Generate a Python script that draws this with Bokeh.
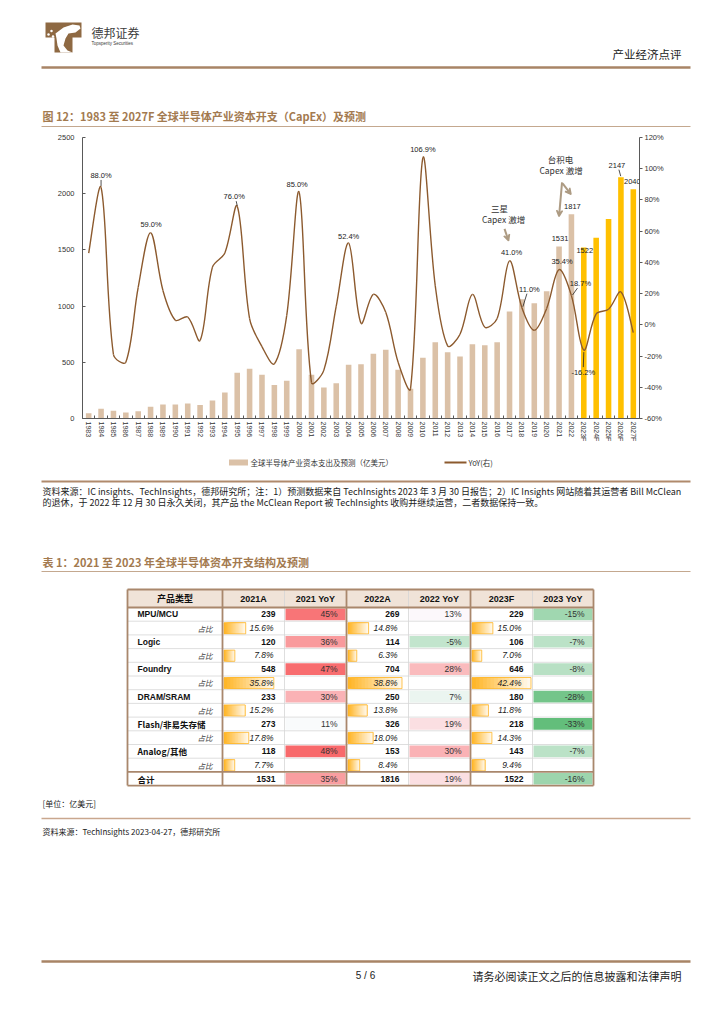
import math
import statistics
from bokeh.plotting import figure
from bokeh.models import (Range1d, LinearAxis, FixedTicker, PrintfTickFormatter,
                          ColumnDataSource, LabelSet, Arrow, VeeHead)
from bokeh.layouts import column
from bokeh.core.properties import value
from bokeh.embed import file_html
from bokeh.resources import INLINE

CJK = "Noto Sans CJK SC"
LAT = "Liberation Sans"

# ---------------- chart data ----------------
years = ["1983", "1984", "1985", "1986", "1987", "1988", "1989", "1990", "1991", "1992",
         "1993", "1994", "1995", "1996", "1997", "1998", "1999", "2000", "2001", "2002",
         "2003", "2004", "2005", "2006", "2007", "2008", "2009", "2010", "2011", "2012",
         "2013", "2014", "2015", "2016", "2017", "2018", "2019", "2020", "2021", "2022",
         "2023F", "2024F", "2025F", "2026F", "2027F"]
capex = [46, 86, 68, 53, 65, 104, 125, 125, 133, 119,
         160, 231, 406, 442, 389, 297, 335, 617, 389, 276,
         314, 478, 483, 575, 611, 433, 264, 540, 679, 590,
         552, 661, 652, 679, 952, 1062, 1026, 1133, 1531, 1817,
         1522, 1607, 1774, 2147, 2040]
yoy = [46, 88.0, -19, -24, 24, 59.0, 22, 3, 5, -10,
       37, 46, 76.0, 4, -14, -25, 6, 85.0, -37, -29,
       12, 52.4, 1, 19.5, 8, -24, -41, 106.9, 25, -13.5,
       -6, 19.5, -1.5, 4, 41.0, 11.0, -3.5, 10.5, 35.4, 18.7,
       -16.2, 7, 10, 21, -5]
left_ticks = [0, 500, 1000, 1500, 2000, 2500]
right_ticks = [-60, -40, -20, 0, 20, 40, 60, 80, 100, 120]

yoy_label_years = ["1984", "1988", "1995", "2000", "2004", "2010", "2017", "2018", "2021", "2022", "2023F"]
yoy_label_text = ["88.0%", "59.0%", "76.0%", "85.0%", "52.4%", "106.9%", "41.0%", "11.0%", "35.4%", "18.7%", "-16.2%"]
bar_label_years = ["2021", "2022", "2023F", "2026F", "2027F"]
bar_label_text = ["1531", "1817", "1522", "2147", "2040"]

legend_bar = "全球半导体产业资本支出及预测（亿美元）"
legend_line = "YoY(右)"

# ---------------- table data ----------------
tbl_cats = ["MPU/MCU", "Logic", "Foundry", "DRAM/SRAM", "Flash/非易失存储", "Analog/其他"]
tbl_headers = ["产品类型", "2021A", "2021 YoY", "2022A", "2022 YoY", "2023F", "2023 YoY"]
v2021 = [239, 120, 548, 233, 273, 118]
yoy2021 = [45, 36, 47, 30, 11, 48]
sh2021 = [15.6, 7.8, 35.8, 15.2, 17.8, 7.7]
v2022 = [269, 114, 704, 250, 326, 153]
yoy2022 = [13, -5, 28, 7, 19, 30]
sh2022 = [14.8, 6.3, 38.8, 13.8, 18.0, 8.4]
v2023 = [229, 106, 646, 180, 218, 143]
yoy2023 = [-15, -7, -8, -28, -33, -7]
sh2023 = [15.0, 7.0, 42.4, 11.8, 14.3, 9.4]
tot_vals = [1531, 1816, 1522]
tot_yoy = [35, 19, -16]

# ---------------- styles ----------------
PAGE_W = 708
BAR_HIST = "#dbc1a7"
BAR_FC = "#ffc000"
LINE_C = "#8c5a2e"
TITLE_C = "#a37a4f"
RULE_C = "#a88466"
AXIS_C = "#595959"
TXT = "#333333"


def deco(h, y_top):
    f = figure(width=PAGE_W, height=h, x_range=Range1d(0, PAGE_W),
               y_range=Range1d(y_top + h, y_top), output_backend="svg",
               toolbar_location=None, min_border=0, title=None,
               x_axis_location=None, y_axis_location=None)
    f.frame_align = False
    f.grid.visible = False
    f.outline_line_color = None
    f.background_fill_color = "white"
    f.border_fill_color = "white"
    return f


def txt(f, x, y, s, size, font=CJK, color=TXT, align="left", style="normal"):
    f.text(x=[x], y=[y], text=[s], text_font=value(font), text_font_size=size,
           text_color=color, text_align=align, text_baseline="middle",
           text_font_style=style)


def rule(f, x0, x1, y, w, c):
    f.segment(x0=[x0], y0=[y], x1=[x1], y1=[y], line_width=w, line_color=c)


# ================= header =================
HDR_END = 128
hdr = deco(HDR_END, 0)
hdr.patches(xs=[[45, 81, 81, 72, 72, 54, 54, 45]], ys=[[22, 22, 37, 37, 52, 52, 37, 37]],
            fill_color="#8e6943", line_color=None)
hdr.patches(xs=[[55, 63, 72, 79, 80, 75, 68, 65, 63, 67, 72, 60, 57, 56]],
            ys=[[33, 27, 24, 25, 28, 32, 33, 38, 45, 50, 52, 52, 45, 38]],
            fill_color="white", line_color=None)
hdr.scatter(x=[48, 51, 52.5], y=[34, 30.5, 36], size=2.5, fill_color="white", line_color=None)
txt(hdr, 91, 32, "德邦证券", "12px", color="#3c3c3c")
txt(hdr, 91, 42.5, "Topsperity Securities", "4.5px", font=LAT, color="#3c3c3c")
txt(hdr, 681, 53, "产业经济点评", "11.5px", color="#222222", align="right")
rule(hdr, 41, 690, 67, 2.5, RULE_C)
txt(hdr, 42, 115, "图 12：1983 至 2027F 全球半导体产业资本开支（CapEx）及预测", "11px",
    color=TITLE_C, style="bold")
rule(hdr, 41, 690, 126, 1, "#c4a88f")

# ================= chart =================
N = len(years)
ML, MR, MT, MB = 82, 69, 9, 32
FW = PAGE_W - ML - MR
FH = 281
YMAX = left_ticks[-1]
RMIN, RMAX = right_ticks[0], right_ticks[-1]
PX_X = FW / N
PX_B = FH / YMAX
PX_R = FH / (RMAX - RMIN)
CH_H = MT + FH + MB

chart = figure(width=PAGE_W, height=CH_H, x_range=Range1d(-0.5, N - 0.5),
               y_range=Range1d(0, YMAX), output_backend="svg", toolbar_location=None,
               min_border_left=ML, min_border_right=MR, min_border_top=MT,
               min_border_bottom=MB, title=None, x_axis_location=None, y_axis_location=None)
chart.frame_align = False
chart.extra_y_ranges = {"yoy": Range1d(RMIN, RMAX)}
chart.grid.visible = False
chart.outline_line_color = None
chart.background_fill_color = "white"
chart.border_fill_color = "white"

idx = list(range(N))
xaxis = LinearAxis(ticker=FixedTicker(ticks=idx, minor_ticks=[i - 0.5 for i in range(N + 1)]),
                   major_label_overrides={i: y for i, y in enumerate(years)},
                   major_label_orientation="vertical", major_tick_in=0, major_tick_out=0,
                   minor_tick_in=3, minor_tick_out=0, minor_tick_line_color=AXIS_C,
                   axis_line_color=AXIS_C, major_label_standoff=3,
                   major_label_text_font=LAT, major_label_text_font_size="7px",
                   major_label_text_color=TXT)
chart.add_layout(xaxis, "below")
yl = LinearAxis(ticker=FixedTicker(ticks=left_ticks), major_tick_out=0, major_tick_in=3,
                minor_tick_out=0, minor_tick_in=0, axis_line_color=AXIS_C,
                major_tick_line_color=AXIS_C, major_label_standoff=8,
                major_label_text_font=LAT, major_label_text_font_size="7.5px",
                major_label_text_color=TXT)
chart.add_layout(yl, "left")
yr = LinearAxis(y_range_name="yoy", ticker=FixedTicker(ticks=right_ticks),
                formatter=PrintfTickFormatter(format="%d%%"), major_tick_out=3,
                major_tick_in=0, minor_tick_out=0, minor_tick_in=0, axis_line_color=AXIS_C,
                major_tick_line_color=AXIS_C, major_label_standoff=2,
                major_label_text_font=LAT, major_label_text_font_size="7.5px",
                major_label_text_color=TXT)
chart.add_layout(yr, "right")

bar_src = ColumnDataSource(dict(x=idx, top=capex,
                                color=[BAR_FC if y.endswith("F") else BAR_HIST for y in years]))
chart.vbar(x="x", top="top", width=0.45, fill_color="color", line_color=None, source=bar_src)

# smoothed YoY line: bezier segments through every data point, tangents scaled by the
# neighbouring segment lengths (measured on screen) as spreadsheet smoothing does
T = 1 / 6


def sdist(i, j):
    return math.hypot((idx[j] - idx[i]) * PX_X, (yoy[j] - yoy[i]) * PX_R)


fwd, bwd = [], []
for k in range(N):
    km, kp = max(k - 1, 0), min(k + 1, N - 1)
    vx, vy = idx[kp] - idx[km], yoy[kp] - yoy[km]
    d0, d1 = sdist(km, k), sdist(k, kp)
    s = d0 + d1 if d0 + d1 > 0 else 1
    ff, fb = T * 2 * d1 / s, T * 2 * d0 / s
    if k == 0 or k == N - 1:
        ff = fb = T
    fwd.append((idx[k] + vx * ff, yoy[k] + vy * ff))
    bwd.append((idx[k] - vx * fb, yoy[k] - vy * fb))
chart.bezier(x0=idx[:-1], y0=yoy[:-1], x1=idx[1:], y1=yoy[1:],
             cx0=[p[0] for p in fwd[:-1]], cy0=[p[1] for p in fwd[:-1]],
             cx1=[p[0] for p in bwd[1:]], cy1=[p[1] for p in bwd[1:]],
             y_range_name="yoy", line_color=LINE_C, line_width=1.4)

# label offsets in px (dx right, dy down)
yoy_off = {"1984": (0, -12), "1988": (0.5, -8.5), "1995": (-3, -9.5), "2000": (-2, -8),
           "2004": (0, -7), "2010": (0, -8.5), "2017": (2, -8.5), "2018": (7.5, -18.5),
           "2021": (3, -8), "2022": (9, -12.5), "2023F": (-0.5, 22)}
bar_off = {"2021": (1, -7.5), "2022": (1, -7.8), "2023F": (1, 3), "2026F": (-4, -11.5),
           "2027F": (-1, -8)}

yl_idx = [years.index(y) for y in yoy_label_years]
chart.add_layout(LabelSet(
    x="x", y="y", text="t", x_offset="xo", y_offset="yo", y_range_name="yoy",
    source=ColumnDataSource(dict(x=yl_idx, y=[yoy[i] for i in yl_idx], t=yoy_label_text,
                                 xo=[yoy_off[y][0] for y in yoy_label_years],
                                 yo=[-yoy_off[y][1] for y in yoy_label_years])),
    text_font=value(LAT), text_font_size="7.5px", text_color="#222222",
    text_align="center", text_baseline="middle"))
bl_idx = [years.index(y) for y in bar_label_years]
chart.add_layout(LabelSet(
    x="x", y="y", text="t", x_offset="xo", y_offset="yo",
    source=ColumnDataSource(dict(x=bl_idx, y=[capex[i] for i in bl_idx], t=bar_label_text,
                                 xo=[bar_off[y][0] for y in bar_label_years],
                                 yo=[-bar_off[y][1] for y in bar_label_years])),
    text_font=value(LAT), text_font_size="7.5px", text_color="#222222",
    text_align="center", text_baseline="middle"))

# leader lines (px offsets from the annotated point)
yoy_lead = {"1984": (0, -7.5, 0, -1.5), "1995": (-1, -5, 0, -0.5), "2018": (5, -14, 1, -1),
            "2022": (6, -7.5, 1, -0.5), "2023F": (-0.5, 17, 0, 2)}
lx0, ly0, lx1, ly1 = [], [], [], []
for y, (a, b, c, d) in yoy_lead.items():
    i = years.index(y)
    lx0.append(i + a / PX_X); ly0.append(yoy[i] - b / PX_R)
    lx1.append(i + c / PX_X); ly1.append(yoy[i] - d / PX_R)
chart.segment(x0=lx0, y0=ly0, x1=lx1, y1=ly1, y_range_name="yoy", line_color="#222222",
              line_width=0.8)
i26 = years.index("2026F")
chart.segment(x0=[i26 - 2 / PX_X], y0=[capex[i26] + 7.5 / PX_B], x1=[i26 - 0.2 / PX_X],
              y1=[capex[i26] + 1 / PX_B], line_color="#222222", line_width=0.8)

# event annotations
i17 = years.index("2017")
i21 = years.index("2021")
ann_src = ColumnDataSource(dict(
    x=[i17, i17, i21, i21],
    y=[yoy[i17] + 53 / PX_R, yoy[i17] + 42 / PX_R,
       (capex[i21] + 87.5 / PX_B) / YMAX * (RMAX - RMIN) + RMIN,
       (capex[i21] + 76 / PX_B) / YMAX * (RMAX - RMIN) + RMIN],
    t=["三星", "Capex 激增", "台积电", "Capex 激增"],
    xo=[-10, -6, 1.5, 2]))
chart.add_layout(LabelSet(x="x", y="y", text="t", x_offset="xo", y_range_name="yoy",
                          source=ann_src, text_font=value(CJK), text_font_size="8.5px",
                          text_color="#333333", text_align="center", text_baseline="middle"))
ARC = "#ad9b83"
arrows = [
    (i17, yoy[i17], -5, -32, -1, -20, "yoy"),
    (i21, capex[i21], 3, -64, 0, -30, "default"),
    (i21, capex[i21], 3.5, -63, 12, -52, "default"),
]
for (ai, av, a, b, c, d, rn) in arrows:
    py = PX_R if rn == "yoy" else PX_B
    chart.add_layout(Arrow(x_start=ai + a / PX_X, y_start=av - b / py,
                           x_end=ai + c / PX_X, y_end=av - d / py, y_range_name=rn,
                           line_color=ARC, line_width=2,
                           end=VeeHead(size=6, line_color=ARC, fill_color=ARC, line_width=1.5)))

# ================= lower page =================
LOW_TOP = HDR_END + CH_H
low = deco(1016 - LOW_TOP, LOW_TOP)
# legend
low.rect(x=[238], y=[462], width=19, height=6, fill_color=BAR_HIST, line_color=None)
txt(low, 250, 462, legend_bar, "7.5px", color=TXT)
rule(low, 444, 466, 462, 2, LINE_C)
txt(low, 468, 462, legend_line, "7.5px", color=TXT)
rule(low, 41, 690, 481, 2.2, "#b08a6c")
txt(low, 42, 490.5, "资料来源：IC insights、TechInsights，德邦研究所；注：1）预测数据来自 TechInsights 2023 年 3 月 30 日报告；2）IC Insights 网站随着其运营者 Bill McClean",
    "9px", color="#222222")
txt(low, 42, 501.5, "的退休，于 2022 年 12 月 30 日永久关闭，其产品 the McClean Report 被 TechInsights 收购并继续运营，二者数据保持一致。",
    "9px", color="#222222")

txt(low, 42, 561, "表 1：2021 至 2023 年全球半导体资本开支结构及预测", "11px",
    color=TITLE_C, style="bold")
rule(low, 41, 690, 571, 1, "#c4a88f")

# ---- table ----
TX = [127, 222, 284, 346, 408, 470, 532, 593]
T_TOP, HDR_H, ROW_H = 589, 18, 13.7
NROW = 2 * len(tbl_cats) + 1
T_BOT = T_TOP + HDR_H + NROW * ROW_H
GRID_C = "#d6d6d6"
TB_C = "#a9876c"


def rtop(r):
    return T_TOP + HDR_H + r * ROW_H


low.quad(left=[TX[0]], right=[TX[-1]], top=[T_TOP], bottom=[T_TOP + HDR_H],
         fill_color="#f0e3d8", line_color=None)

vals = [v2021, v2022, v2023]
yoys = [yoy2021, yoy2022, yoy2023]
shares = [sh2021, sh2022, sh2023]

allyoy = yoy2021 + yoy2022 + yoy2023
lo, hi, mid = min(allyoy), max(allyoy), statistics.median(allyoy)


def cscale(v):
    g, w, r = (99, 190, 123), (252, 252, 255), (248, 105, 107)
    if v <= mid:
        t, c = min(1, (mid - v) / (mid - lo)), g
    else:
        t, c = min(1, (v - mid) / (hi - mid)), r
    return "#%02x%02x%02x" % tuple(round(w[k] + (c[k] - w[k]) * t) for k in range(3))


CW = TX[2] - TX[1]
PX_SH = (CW - 3) / max(sh2021 + sh2022 + sh2023)


def databar(x0, yt, yb, length):
    n = 16
    seg = length / n
    l, cols = [], []
    for s in range(n):
        t = s / (n - 1)
        l.append(x0 + s * seg)
        cols.append("#%02x%02x%02x" % (255, round(182 + (248 - 182) * t), round(40 + (235 - 40) * t)))
    low.quad(left=l, right=[x0 + length] * n, top=[yt] * n, bottom=[yb] * n, fill_color=cols,
             line_color=None)
    low.quad(left=[x0], right=[x0 + length], top=[yt], bottom=[yb], fill_color=None,
             line_color="#ffb628", line_width=0.8)


def font_for(s):
    return CJK if any(ord(ch) > 127 for ch in s) else LAT


# header texts
for c, h in enumerate(tbl_headers):
    txt(low, (TX[c] + TX[c + 1]) / 2, T_TOP + HDR_H / 2, h, "9px", font=font_for(h),
        color="#111111", align="center", style="bold")

for k, cat in enumerate(tbl_cats):
    r = 2 * k
    yc = rtop(r) + ROW_H / 2
    txt(low, TX[0] + 10, yc, cat, "8.5px", font=font_for(cat), color="#111111", style="bold")
    ys = rtop(r + 1) + ROW_H / 2
    txt(low, TX[1] - 10, ys, "占比", "7.5px", font=CJK, color="#444444", align="right",
        style="italic")
    for g in range(3):
        cv, cy = TX[1 + 2 * g], TX[2 + 2 * g]
        txt(low, TX[2 + 2 * g] - 9, yc, str(vals[g][k]), "8.5px", font=LAT,
            color="#111111", align="right", style="bold")
        low.quad(left=[cy + 1], right=[TX[3 + 2 * g] - 1], top=[rtop(r) + 1],
                 bottom=[rtop(r + 1) - 1], fill_color=cscale(yoys[g][k]), line_color=None)
        txt(low, TX[3 + 2 * g] - 9, yc, "%d%%" % yoys[g][k], "8.5px", font=LAT,
            color="#333333", align="right")
        databar(cv + 1.5, rtop(r + 1) + 1.5, rtop(r + 2) - 1, shares[g][k] * PX_SH)
        txt(low, TX[2 + 2 * g] - 11, ys, "%.1f%%" % shares[g][k], "8.5px", font=LAT,
            color="#222222", align="right", style="italic")

rt = NROW - 1
yc = rtop(rt) + ROW_H / 2
txt(low, TX[0] + 10, yc, "合计", "8.5px", font=CJK, color="#111111", style="bold")
for g in range(3):
    txt(low, TX[2 + 2 * g] - 9, yc, str(tot_vals[g]), "8.5px", font=LAT, color="#111111",
        align="right", style="bold")
    low.quad(left=[TX[2 + 2 * g] + 1], right=[TX[3 + 2 * g] - 1], top=[rtop(rt) + 1],
             bottom=[rtop(rt + 1) - 1], fill_color=cscale(tot_yoy[g]), line_color=None)
    txt(low, TX[3 + 2 * g] - 9, yc, "%d%%" % tot_yoy[g], "8.5px", font=LAT, color="#333333",
        align="right")

# grid lines
hy = [rtop(r) for r in range(1, NROW - 1)]
low.segment(x0=[TX[0]] * len(hy), y0=hy, x1=[TX[-1]] * len(hy), y1=hy, line_color=GRID_C,
            line_width=0.8)
thin_x = [TX[2], TX[4], TX[6]]
low.segment(x0=thin_x, y0=[T_TOP] * 3, x1=thin_x, y1=[T_BOT] * 3, line_color=GRID_C,
            line_width=0.8)
bx = [TX[0], TX[1], TX[3], TX[5], TX[7]]
low.segment(x0=bx, y0=[T_TOP] * 5, x1=bx, y1=[T_BOT] * 5, line_color=TB_C, line_width=1.8)
by = [T_TOP, T_TOP + HDR_H, rtop(NROW - 1), T_BOT]
low.segment(x0=[TX[0]] * 4, y0=by, x1=[TX[-1]] * 4, y1=by, line_color=TB_C, line_width=1.8)

txt(low, 42, 803, "[单位：亿美元]", "8px", color="#222222")
rule(low, 41, 690, 818, 1.5, "#c9a78e")
txt(low, 42, 831, "资料来源：TechInsights 2023-04-27，德邦研究所", "8px", color="#222222")

rule(low, 41, 690, 961, 2.5, RULE_C)
txt(low, 365, 975, "5 / 6", "10px", font=LAT, color="#222222", align="center")
txt(low, 681, 975, "请务必阅读正文之后的信息披露和法律声明", "11px", color="#222222",
    align="right")

page = column(hdr, chart, low, spacing=0)
open("out.html", "w").write(file_html(page, INLINE))
